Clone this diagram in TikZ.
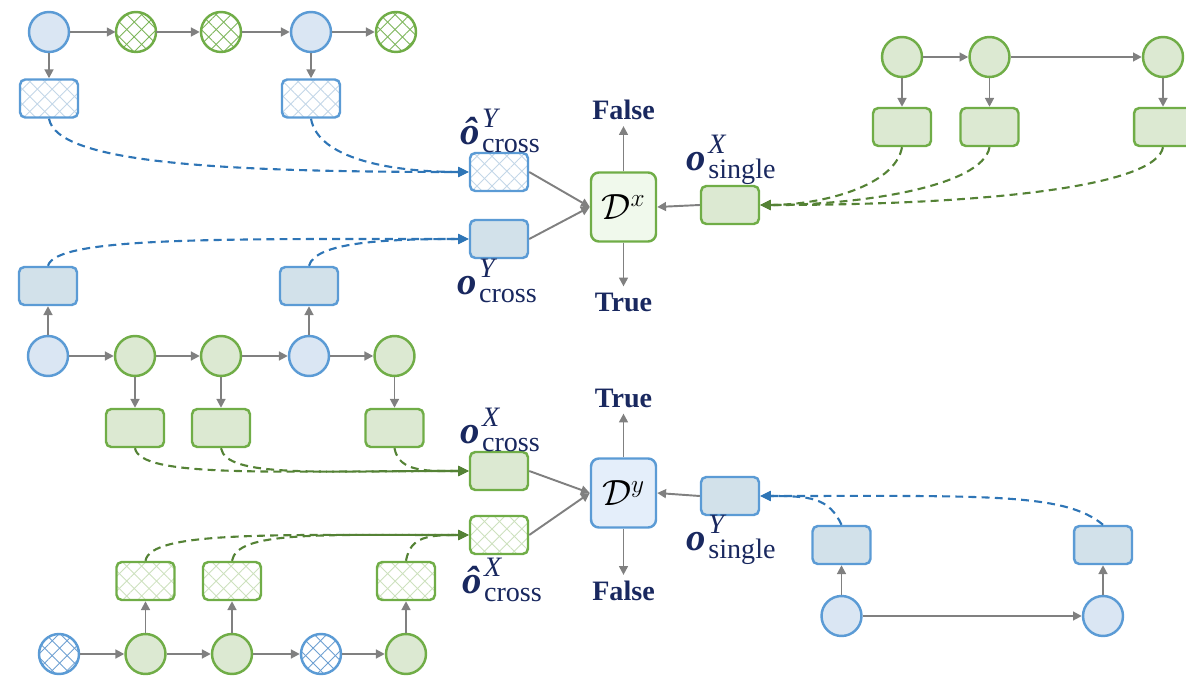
\documentclass[tikz,border=0pt]{standalone}
\usepackage{fontspec}
\setmainfont{Liberation Serif}
\usetikzlibrary{arrows.meta,patterns.meta}

\definecolor{bstroke}{RGB}{91,155,213}
\definecolor{bfill}{RGB}{218,230,243}
\definecolor{bbox}{RGB}{210,225,234}
\definecolor{gstroke}{RGB}{112,173,71}
\definecolor{gfill}{RGB}{220,233,210}
\definecolor{dxfill}{RGB}{240,249,236}
\definecolor{dyfill}{RGB}{228,238,250}
\definecolor{bdashc}{RGB}{46,117,182}
\definecolor{gdashc}{RGB}{84,130,53}
\definecolor{arrgray}{RGB}{128,128,128}
\definecolor{navy}{RGB}{25,40,95}
\definecolor{bhatch}{RGB}{195,215,232}
\definecolor{bhatchdark}{RGB}{110,160,210}
\definecolor{ghatch}{RGB}{205,225,190}
\definecolor{ghatchdark}{RGB}{125,182,90}

% bold output symbol with superscript and subscript
\newcommand{\outsym}[3]{{\fontsize{22}{22}\selectfont\bfseries\itshape #1}\kern1.5pt{\fontsize{16}{16}\selectfont\rlap{\raisebox{9.5pt}{\itshape #2}}\raisebox{-4.5pt}{#3}}}

\tikzset{
  hatch/.style={
    preaction={fill=white},
    preaction={pattern={Lines[angle=45,distance=6pt,line width=0.5pt]},pattern color=#1},
    pattern={Lines[angle=-45,distance=6pt,line width=0.5pt]},pattern color=#1},
  circ/.style={circle,minimum size=0.8cm,inner sep=0pt,line width=1.4pt},
  bc/.style={circ,draw=bstroke,fill=bfill},
  gc/.style={circ,draw=gstroke,fill=gfill},
  bch/.style={circ,draw=bstroke,hatch=bhatchdark},
  gch/.style={circ,draw=gstroke,hatch=ghatchdark},
  box/.style={rectangle,rounded corners=3pt,minimum width=1.16cm,minimum height=0.76cm,inner sep=0pt,line width=1.4pt},
  bb/.style={box,draw=bstroke,fill=bbox},
  gb/.style={box,draw=gstroke,fill=gfill},
  bbh/.style={box,draw=bstroke,hatch=bhatch},
  gbh/.style={box,draw=gstroke,hatch=ghatch},
  disc/.style={rectangle,rounded corners=4.5pt,minimum width=1.3cm,minimum height=1.38cm,inner sep=0pt,line width=1.4pt,font=\fontsize{22}{22}\selectfont},
  garr/.style={draw=arrgray,line width=1.1pt,-{Triangle[length=5pt,width=5pt]}},
  bdash/.style={draw=bdashc,line width=1.2pt,dash pattern=on 4.5pt off 3pt,-{Triangle[length=6pt,width=5.5pt]}},
  gdash/.style={draw=gdashc,line width=1.2pt,dash pattern=on 4.5pt off 3pt,-{Triangle[length=6pt,width=5.5pt]}},
  word/.style={text=navy,font=\fontsize{16}{16}\selectfont\bfseries},
  lab/.style={text=navy,inner sep=0pt}
}

\begin{document}
\begin{tikzpicture}[x=0.02cm,y=0.02cm]
\clip (0,0) rectangle (1186,-678);

% ---------- top left sequence ----------
\node[bc]  (a1) at (49,-32) {};
\node[gch] (a2) at (136,-32) {};
\node[gch] (a3) at (221,-32) {};
\node[bc]  (a4) at (311,-32) {};
\node[gch] (a5) at (396,-32) {};
\node[bbh] (ab1) at (49,-98.5) {};
\node[bbh] (ab4) at (311,-98.5) {};
\foreach \s/\t in {a1/a2,a2/a3,a3/a4,a4/a5} \draw[garr] (\s) -- (\t);
\draw[garr] (a1) -- (ab1);
\draw[garr] (a4) -- (ab4);

% ---------- middle sequence ----------
\node[bc] (m1) at (48,-356) {};
\node[gc] (m2) at (135,-356) {};
\node[gc] (m3) at (221,-356) {};
\node[bc] (m4) at (309,-356) {};
\node[gc] (m5) at (394.5,-356) {};
\node[bb] (mb1) at (48,-286) {};
\node[bb] (mb4) at (309,-286) {};
\node[gb] (mg2) at (135,-428) {};
\node[gb] (mg3) at (221,-428) {};
\node[gb] (mg5) at (394.5,-428) {};
\foreach \s/\t in {m1/m2,m2/m3,m3/m4,m4/m5} \draw[garr] (\s) -- (\t);
\draw[garr] (m1) -- (mb1);
\draw[garr] (m4) -- (mb4);
\draw[garr] (m2) -- (mg2);
\draw[garr] (m3) -- (mg3);
\draw[garr] (m5) -- (mg5);

% ---------- bottom left sequence ----------
\node[bch] (b1) at (59,-654) {};
\node[gc]  (b2) at (145.5,-654) {};
\node[gc]  (b3) at (232,-654) {};
\node[bch] (b4) at (321,-654) {};
\node[gc]  (b5) at (406,-654) {};
\node[gbh] (bb2) at (145.5,-581) {};
\node[gbh] (bb3) at (232,-581) {};
\node[gbh] (bb5) at (406,-581) {};
\foreach \s/\t in {b1/b2,b2/b3,b3/b4,b4/b5} \draw[garr] (\s) -- (\t);
\draw[garr] (b2) -- (bb2);
\draw[garr] (b3) -- (bb3);
\draw[garr] (b5) -- (bb5);

% ---------- top right sequence ----------
\node[gc] (r1) at (902,-57) {};
\node[gc] (r2) at (989.5,-57) {};
\node[gc] (r3) at (1163,-57) {};
\node[gb] (rb1) at (902,-127) {};
\node[gb] (rb2) at (989.5,-127) {};
\node[gb] (rb3) at (1163,-127) {};
\draw[garr] (r1) -- (r2);
\draw[garr] (r2) -- (r3);
\draw[garr] (r1) -- (rb1);
\draw[garr] (r2) -- (rb2);
\draw[garr] (r3) -- (rb3);

% ---------- bottom right sequence ----------
\node[bc] (c1) at (841.5,-616) {};
\node[bc] (c2) at (1103,-616) {};
\node[bb] (cb1) at (841.5,-545) {};
\node[bb] (cb2) at (1103,-545) {};
\draw[garr] (c1) -- (c2);
\draw[garr] (c1) -- (cb1);
\draw[garr] (c2) -- (cb2);

% ---------- discriminator D^x ----------
\node[bbh] (hY) at (499,-172) {};
\node[bb]  (oY) at (499,-239) {};
\node[disc,draw=gstroke,fill=dxfill] (Dx) at (623.5,-207) {$\mathcal{D}^{x}$};
\node[gb]  (sX) at (730,-205) {};
\node[word] (F1) at (623.5,-110) {False};
\node[word] (T1) at (623.5,-302) {True};
\node[lab] (hYl) at (500,-131) {\outsym{ô}{Y}{cross}};
\node[lab] (oYl) at (497,-281) {\outsym{o}{Y}{cross}};
\node[lab] (sXl) at (731,-160) {\outsym{o}{X}{single}};
\draw[garr] (hY.east) -- (Dx.west);
\draw[garr] (oY.east) -- (Dx.west);
\draw[garr] (sX.west) -- (Dx.east);
\draw[garr] (Dx.north) -- (F1.south);
\draw[garr] (Dx.south) -- (T1.north);

% ---------- discriminator D^y ----------
\node[gb]  (oX) at (499,-471) {};
\node[gbh] (hX) at (499,-535) {};
\node[disc,draw=bstroke,fill=dyfill] (Dy) at (623.5,-493) {$\mathcal{D}^{y}$};
\node[bb]  (sY) at (730,-496) {};
\node[word] (T2) at (623.5,-398) {True};
\node[word] (F2) at (623.5,-591) {False};
\node[lab] (oXl) at (500,-430) {\outsym{o}{X}{cross}};
\node[lab] (hXl) at (502,-580) {\outsym{ô}{X}{cross}};
\node[lab] (sYl) at (731,-540) {\outsym{o}{Y}{single}};
\draw[garr] (oX.east) -- (Dy.west);
\draw[garr] (hX.east) -- (Dy.west);
\draw[garr] (sY.west) -- (Dy.east);
\draw[garr] (Dy.north) -- (T2.south);
\draw[garr] (Dy.south) -- (F2.north);

% ---------- dashed feature flows ----------
\draw[bdash] (ab1.south) to[out=-80,in=180,out distance=0.9cm,in distance=5cm] (hY.west);
\draw[bdash] (ab4.south) to[out=-80,in=180,out distance=0.8cm,in distance=1.6cm] (hY.west);
\draw[bdash] (mb1.north) to[out=75,in=180,out distance=0.6cm,in distance=5cm] (oY.west);
\draw[bdash] (mb4.north) to[out=75,in=180,out distance=0.5cm,in distance=1.6cm] (oY.west);
\draw[gdash] (mg2.south) to[out=-80,in=180,out distance=0.6cm,in distance=4cm] (oX.west);
\draw[gdash] (mg3.south) to[out=-80,in=180,out distance=0.6cm,in distance=3cm] (oX.west);
\draw[gdash] (mg5.south) to[out=-80,in=180,out distance=0.5cm,in distance=0.8cm] (oX.west);
\draw[gdash] (bb2.north) to[out=80,in=180,out distance=0.6cm,in distance=4cm] (hX.west);
\draw[gdash] (bb3.north) to[out=80,in=180,out distance=0.6cm,in distance=3cm] (hX.west);
\draw[gdash] (bb5.north) to[out=80,in=180,out distance=0.5cm,in distance=0.8cm] (hX.west);
\draw[gdash] (rb1.south) to[out=-100,in=0,out distance=0.8cm,in distance=1.2cm] (sX.east);
\draw[gdash] (rb2.south) to[out=-100,in=0,out distance=0.8cm,in distance=2cm] (sX.east);
\draw[gdash] (rb3.south) to[out=-100,in=0,out distance=0.8cm,in distance=4.5cm] (sX.east);
\draw[bdash] (cb1.north) to[out=115,in=0,out distance=0.6cm,in distance=1cm] (sY.east);
\draw[bdash] (cb2.north) to[out=140,in=0,out distance=1cm,in distance=4.5cm] (sY.east);
\end{tikzpicture}
\end{document}
